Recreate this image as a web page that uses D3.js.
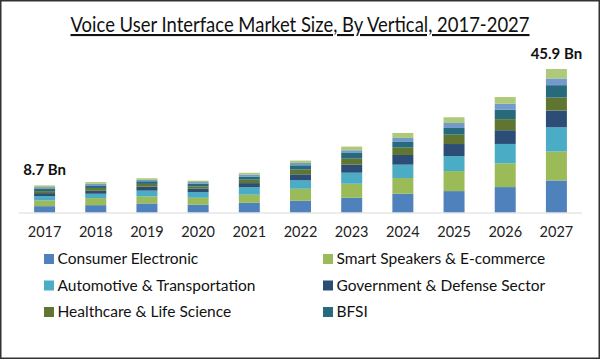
<!DOCTYPE html>
<html><head><meta charset="utf-8">
<script src="https://cdn.jsdelivr.net/npm/d3@7"></script>
<style>html,body{margin:0;padding:0;background:#fff;}svg{display:block;}</style>
</head><body>
<svg id="c" width="600" height="359"></svg>
<script>
const years = ["2017","2018","2019","2020","2021","2022","2023","2024","2025","2026","2027"];
const seriesNames = ["Consumer Electronic","Smart Speakers & E-commerce","Automotive & Transportation","Government & Defense Sector","Healthcare & Life Science","BFSI","Others A","Others B"];
const consumer   = [2.03,2.35,2.90,2.46,3.10,3.75,4.71,5.99,6.85,8.13,10.25];
const smart      = [1.82,2.25,2.20,2.25,2.60,3.85,4.49,5.03,6.40,7.60,9.25];
const automotive = [1.39,1.39,1.90,1.82,2.40,2.68,3.53,4.28,4.80,6.20,7.75];
const government = [0.96,0.96,1.28,1.07,1.30,1.93,2.57,3.10,3.85,4.39,5.35];
const healthcare = [0.64,0.86,0.86,0.75,1.10,1.50,1.93,2.35,3.00,3.53,4.17];
const bfsi       = [0.86,0.86,0.86,0.86,1.00,1.39,1.82,1.82,2.14,3.00,3.96];
const othersA    = [0.43,0.53,0.43,0.53,0.60,0.75,0.86,1.28,1.60,1.93,2.14];
const othersB    = [0.53,0.53,0.53,0.43,0.60,0.75,1.18,1.60,1.82,2.14,3.03];
const seriesData = [consumer,smart,automotive,government,healthcare,bfsi,othersA,othersB];
const colors = ["#4f81bd","#9bbb59","#4bacc6","#2c4d75","#5f7530","#276a7c","#729aca","#afc97a"];
const legendCount = 6;
const totalLabels = {"2017":"8.7 Bn","2027":"45.9 Bn"};

const svg = d3.select("#c");
const font = "Lato, 'Open Sans', sans-serif";

svg.append("rect").attr("x",0.75).attr("y",0.75).attr("width",598.5).attr("height",357.5)
  .attr("fill","#fff").attr("stroke","#333").attr("stroke-width",1.5);

// title
svg.append("text").attr("x",300).attr("y",32).attr("text-anchor","middle")
  .attr("font-family",font).attr("font-size",21).attr("fill","#111")
  .attr("text-decoration","underline")
  .attr("textLength",459).attr("lengthAdjust","spacingAndGlyphs")
  .text("Voice User Interface Market Size, By Vertical, 2017-2027");

const table = years.map((y,i)=>{const o={year:y}; seriesNames.forEach((s,k)=>o[s]=seriesData[k][i]); return o;});
const stack = d3.stack().keys(seriesNames)(table);

const x = d3.scaleBand().domain(years).range([19,582]).paddingInner(0.59).paddingOuter(0.295);
const baseY = 212.5;
const y = d3.scaleLinear().domain([0,45.9]).range([baseY,69]);

svg.append("g").selectAll("g").data(stack).join("g").attr("fill",(d,i)=>colors[i])
  .selectAll("rect").data(d=>d).join("rect")
  .attr("x",d=>x(d.data.year)).attr("width",x.bandwidth())
  .attr("y",d=>y(d[1])).attr("height",d=>y(d[0])-y(d[1]));

// axis
const axis = svg.append("g").attr("transform",`translate(0,${baseY})`)
  .call(d3.axisBottom(x).tickSize(0).tickPadding(14));
axis.select(".domain").attr("stroke","#d9d9d9").attr("stroke-width",1.2).attr("d","M19,0.5H582");
axis.selectAll("text").attr("font-family",font).attr("font-size",14.5).attr("fill","#222");

// total labels
const totals = years.map((yr,i)=>d3.sum(seriesData,s=>s[i]));
svg.append("g").selectAll("text").data(years.filter(d=>totalLabels[d])).join("text")
  .attr("x",d=>x(d)+x.bandwidth()/2).attr("y",d=>y(totals[years.indexOf(d)])-10)
  .attr("text-anchor","middle").attr("font-family",font).attr("font-weight","bold")
  .attr("font-size",15).attr("fill","#111").text(d=>totalLabels[d]);

// legend
const lg = svg.append("g");
const items = seriesNames.slice(0,legendCount);
items.forEach((s,i)=>{
  const col = i%2, row = Math.floor(i/2);
  const gx = col===0 ? 44 : 323, gy = 259 + row*26.5;
  lg.append("rect").attr("x",gx).attr("y",gy-5).attr("width",10).attr("height",10).attr("fill",colors[i]);
  lg.append("text").attr("x",gx+13.5).attr("y",gy+5).attr("font-family",font).attr("font-size",15.5)
    .attr("fill","#111").text(s);
});
</script>
</body></html>
